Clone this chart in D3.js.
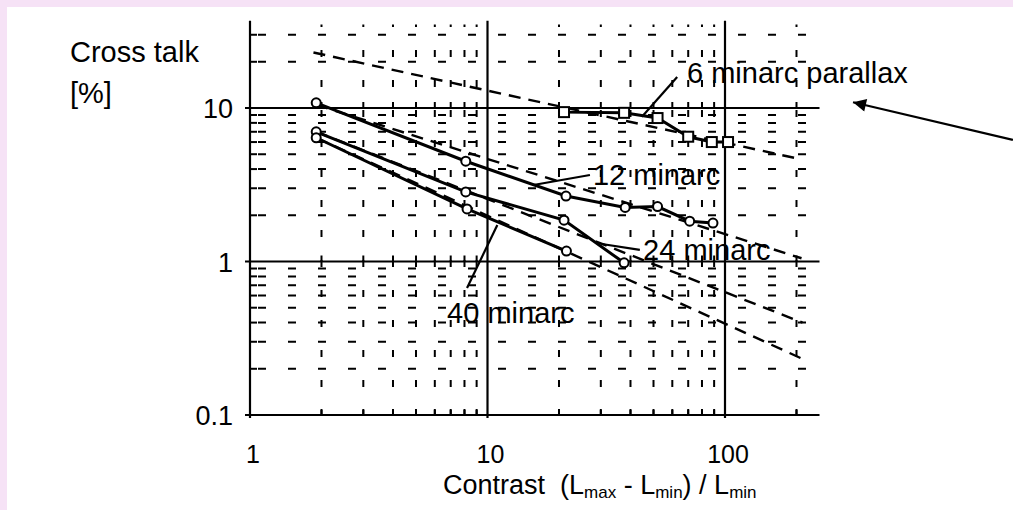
<!DOCTYPE html>
<html>
<head>
<meta charset="utf-8">
<script src="https://cdn.jsdelivr.net/npm/d3@7"></script>
<style>
  html, body { margin: 0; padding: 0; background: #fff; }
  svg { display: block; }
  text { font-family: "Liberation Sans", Arial, Helvetica, sans-serif; fill: #000; white-space: pre; }
</style>
</head>
<body>
<div id="chart"></div>
<script>
const parallax6 = [[21, 9.4], [37.6, 9.3], [52, 8.6], [70, 6.5], [88, 6.0], [103, 6.0]];
const minarc12 = [[1.9, 10.8], [8.1, 4.5], [21.4, 2.67], [38, 2.25], [52, 2.28], [71, 1.83], [89, 1.78]];
const minarc24 = [[1.9, 7.0], [8.1, 2.84], [21, 1.86], [37.6, 0.98]];
const minarc40 = [[1.9, 6.4], [8.2, 2.2], [21.5, 1.17]];

// dashed straight (calculated) lines
const theory = [
    [[1.85, 23], [200, 4.7]],
    [[1.9, 10.5], [210, 1.05]],
    [[1.9, 7.0], [212, 0.40]],
    [[1.9, 6.4], [212, 0.232]]
];

const xTicks = [1, 10, 100];
const yTicks = [0.1, 1, 10];
const xMinor = [2, 3, 4, 5, 6, 7, 8, 9, 20, 30, 40, 50, 60, 70, 80, 90, 200];
const yMinor = [0.2, 0.3, 0.4, 0.5, 0.6, 0.7, 0.8, 0.9, 2, 3, 4, 5, 6, 7, 8, 9, 20, 30];

// annotations: text anchor and leader line, in data units
const labels = [
    { text: "6 minarc parallax", at: [69.2, 14.5], from: [62.9, 15.9], to: [44.7, 8.76] },
    { text: "12 minarc", at: [27.8, 3.15], from: [27, 3.66], to: [15.6, 3.15] },
    { text: "24 minarc", at: [45.2, 1.02], from: [43.8, 1.19], to: [30.3, 1.30] },
    { text: "40 minarc", at: [6.76, 0.398], from: [8.2, 0.672], to: [11.0, 1.73] }
];
const pointer = { from: [1630, 6.2], to: [346, 10.9] };

const width = 1013, height = 510;

const svg = d3.select("#chart").append("svg")
    .attr("width", width)
    .attr("height", height);

// pink frame on the top and left of the scan
svg.append("rect").attr("width", width).attr("height", height).attr("fill", "#f6e2f6");
svg.append("rect").attr("x", 7).attr("y", 7).attr("width", width - 7).attr("height", height - 7).attr("fill", "#fff");

svg.append("defs").append("marker")
    .attr("id", "head")
    .attr("viewBox", "0 0 10 10")
    .attr("refX", 10).attr("refY", 5)
    .attr("markerUnits", "userSpaceOnUse")
    .attr("markerWidth", 22).attr("markerHeight", 13)
    .attr("orient", "auto")
    .append("path")
    .attr("d", "M0,0 L10,5 L0,10 Z")
    .attr("fill", "#000");

const x = d3.scaleLog().domain([1, 250]).range([250, 250 + 237.5 * Math.log10(250)]);
const y = d3.scaleLog().domain([0.1, 35]).range([415, 415 - 153.5 * Math.log10(350)]);

const grid = svg.append("g");

// minor grid, dashed
grid.selectAll(".hminor")
    .data(yMinor)
    .enter().append("line")
    .attr("x1", x(1)).attr("x2", x(250))
    .attr("y1", d => y(d)).attr("y2", d => y(d))
    .attr("stroke", "#000")
    .attr("stroke-width", 2)
    .attr("stroke-dasharray", "8,22")
    .attr("stroke-dashoffset", -8);

grid.selectAll(".vminor")
    .data(xMinor)
    .enter().append("line")
    .attr("x1", d => x(d)).attr("x2", d => x(d))
    .attr("y1", y(0.1)).attr("y2", y(35))
    .attr("stroke", "#000")
    .attr("stroke-width", 2)
    .attr("stroke-dasharray", "7,23")
    .attr("stroke-dashoffset", 2);

// major grid lines
grid.selectAll(".hmajor")
    .data(yTicks)
    .enter().append("line")
    .attr("x1", x(1) - 5).attr("x2", x(250))
    .attr("y1", d => y(d)).attr("y2", d => y(d))
    .attr("stroke", "#000")
    .attr("stroke-width", 2.2);

grid.selectAll(".vmajor")
    .data(xTicks)
    .enter().append("line")
    .attr("x1", d => x(d)).attr("x2", d => x(d))
    .attr("y1", y(0.1) + 3).attr("y2", y(37))
    .attr("stroke", "#000")
    .attr("stroke-width", 2.2);

// small ticks on the solid lines
yTicks.forEach(v => {
    grid.selectAll(null)
        .data(xMinor)
        .enter().append("line")
        .attr("x1", d => x(d)).attr("x2", d => x(d))
        .attr("y1", y(v)).attr("y2", y(v) - 6)
        .attr("stroke", "#000")
        .attr("stroke-width", 2);
});
grid.selectAll(".ytick")
    .data(yMinor)
    .enter().append("line")
    .attr("x1", x(1)).attr("x2", x(1) + 7)
    .attr("y1", d => y(d)).attr("y2", d => y(d))
    .attr("stroke", "#000")
    .attr("stroke-width", 2);

// tick labels
svg.selectAll(".xlab")
    .data(xTicks)
    .enter().append("text")
    .attr("x", d => x(d) + 3)
    .attr("y", 463)
    .attr("text-anchor", "middle")
    .attr("font-size", 25)
    .text(d => d);

svg.selectAll(".ylab")
    .data(yTicks)
    .enter().append("text")
    .attr("x", 233)
    .attr("y", d => y(d) + 10)
    .attr("text-anchor", "end")
    .attr("font-size", 27)
    .text(d => d);

// axis titles
svg.append("text").attr("x", 70).attr("y", 62).attr("font-size", 29).text("Cross talk");
svg.append("text").attr("x", 70).attr("y", 103).attr("font-size", 29).text("[%]");

const title = svg.append("text").attr("x", 443).attr("y", 494).attr("font-size", 27);
title.append("tspan").text("Contrast  (L");
title.append("tspan").attr("font-size", 17).attr("dy", 4).text("max");
title.append("tspan").attr("dy", -4).text(" - L");
title.append("tspan").attr("font-size", 17).attr("dy", 4).text("min");
title.append("tspan").attr("dy", -4).text(") / L");
title.append("tspan").attr("font-size", 17).attr("dy", 4).text("min");

// calculated dashed lines
const line = d3.line().x(d => x(d[0])).y(d => y(d[1]));

svg.selectAll(".theory")
    .data(theory)
    .enter().append("path")
    .attr("d", line)
    .attr("fill", "none")
    .attr("stroke", "#000")
    .attr("stroke-width", 2.4)
    .attr("stroke-dasharray", "12,8");

// measured series
const series = [parallax6, minarc12, minarc24, minarc40];
svg.selectAll(".series")
    .data(series)
    .enter().append("path")
    .attr("d", line)
    .attr("fill", "none")
    .attr("stroke", "#000")
    .attr("stroke-width", 3);

svg.selectAll(".sq")
    .data(parallax6)
    .enter().append("rect")
    .attr("x", d => x(d[0]) - 5)
    .attr("y", d => y(d[1]) - 5)
    .attr("width", 10).attr("height", 10)
    .attr("fill", "#fff")
    .attr("stroke", "#000")
    .attr("stroke-width", 2);

svg.selectAll(".dot")
    .data(minarc12.concat(minarc24, minarc40))
    .enter().append("circle")
    .attr("cx", d => x(d[0]))
    .attr("cy", d => y(d[1]))
    .attr("r", 4.5)
    .attr("fill", "#fff")
    .attr("stroke", "#000")
    .attr("stroke-width", 2);

// annotations with leader lines
labels.forEach(l => {
    svg.append("line")
        .attr("x1", x(l.from[0])).attr("y1", y(l.from[1]))
        .attr("x2", x(l.to[0])).attr("y2", y(l.to[1]))
        .attr("stroke", "#000").attr("stroke-width", 2.2);
    svg.append("text")
        .attr("x", x(l.at[0])).attr("y", y(l.at[1]))
        .attr("font-size", 29)
        .text(l.text);
});

svg.append("line")
    .attr("x1", x(pointer.from[0])).attr("y1", y(pointer.from[1]))
    .attr("x2", x(pointer.to[0])).attr("y2", y(pointer.to[1]))
    .attr("stroke", "#000").attr("stroke-width", 2.2)
    .attr("marker-end", "url(#head)");
</script>
</body>
</html>
